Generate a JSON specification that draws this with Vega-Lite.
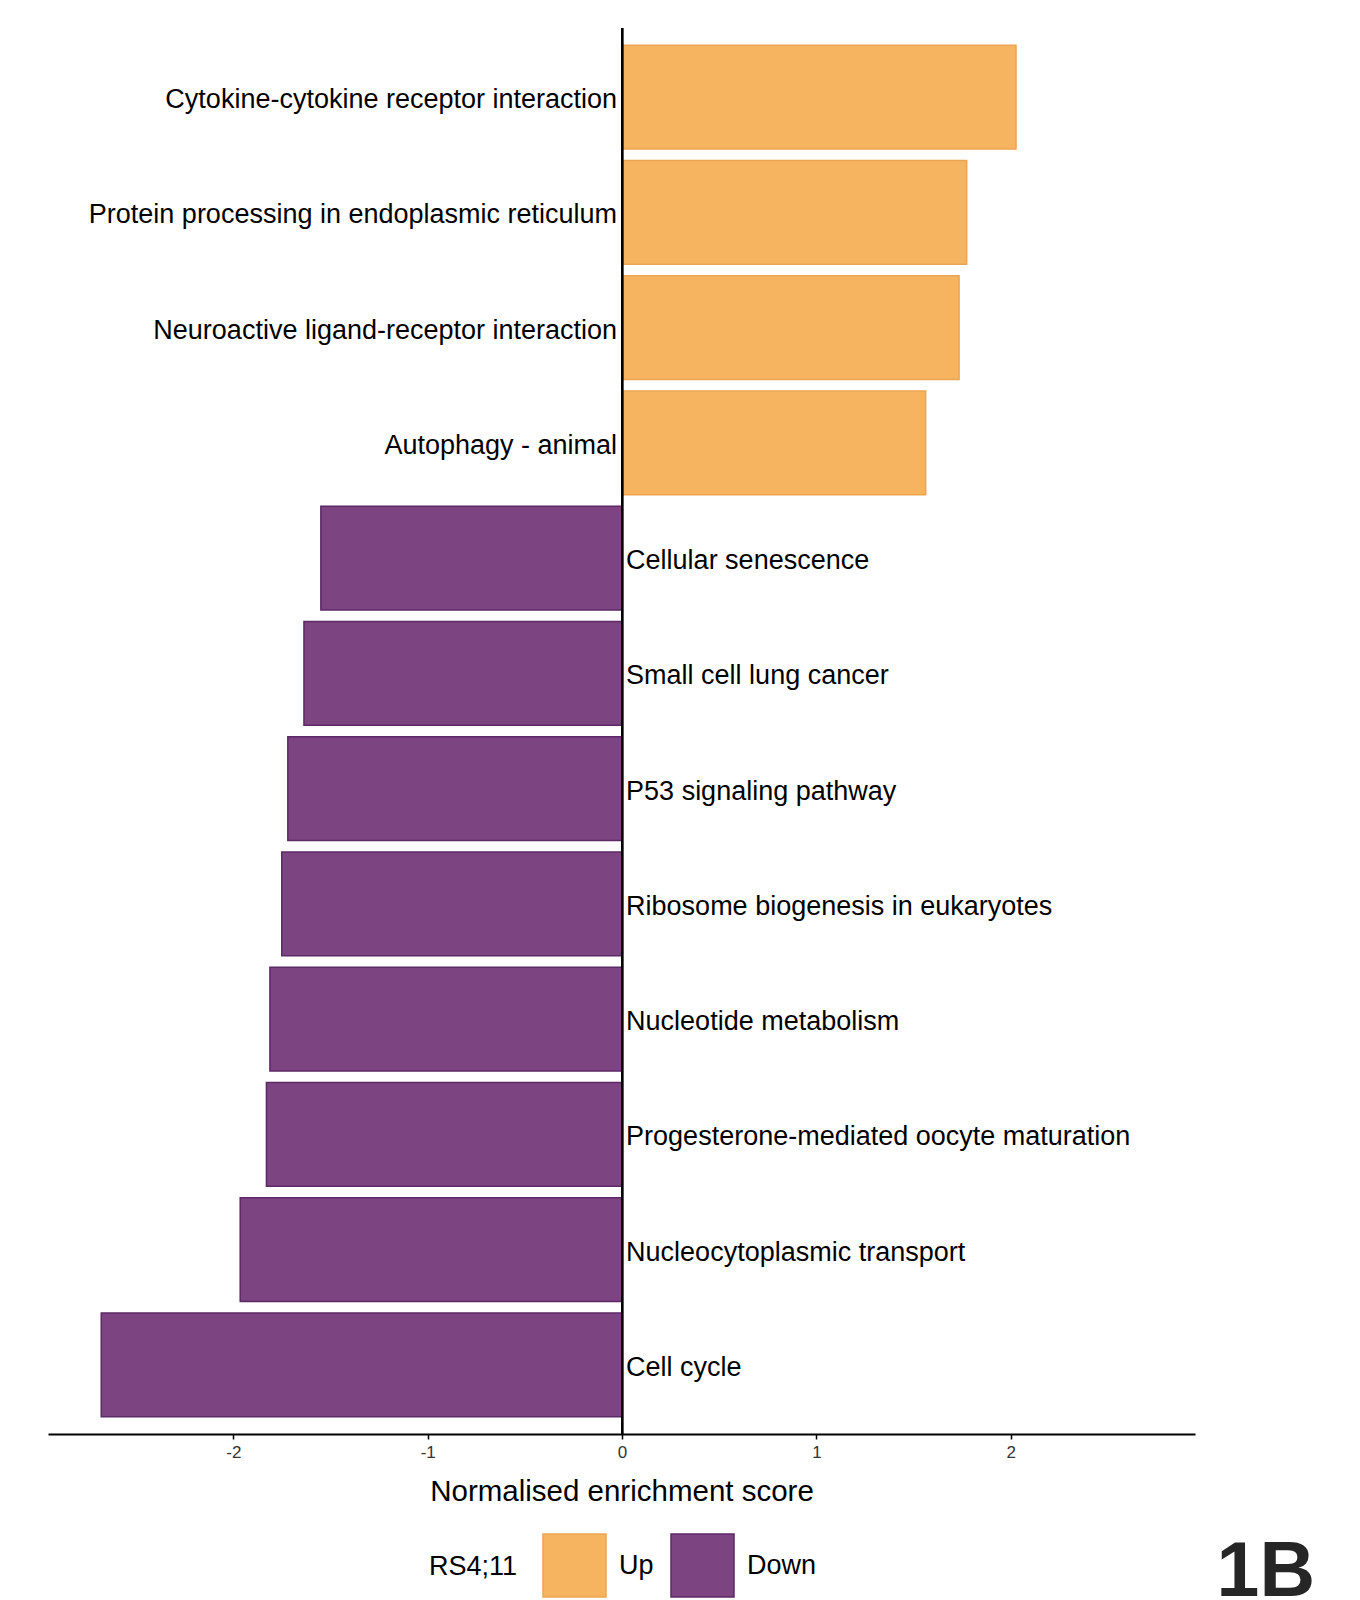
{
  "$schema": "https://vega.github.io/schema/vega-lite/v6.json",
  "autosize": "none",
  "width": 1147,
  "height": 1406,
  "padding": {"left": 48, "top": 28, "right": 165, "bottom": 166},
  "background": "white",
  "title": {"text": "1B", "orient": "bottom", "anchor": "end", "frame": "group", "dx": 120, "offset": -65, "fontSize": 77, "fontWeight": "bold", "font": "Liberation Sans", "color": "#262626"},
  "data": {"values": [
    {"pathway": "Cytokine-cytokine receptor interaction", "nes": 2.027, "dir": "Up"},
    {"pathway": "Protein processing in endoplasmic reticulum", "nes": 1.773, "dir": "Up"},
    {"pathway": "Neuroactive ligand-receptor interaction", "nes": 1.734, "dir": "Up"},
    {"pathway": "Autophagy - animal", "nes": 1.562, "dir": "Up"},
    {"pathway": "Cellular senescence", "nes": -1.55, "dir": "Down"},
    {"pathway": "Small cell lung cancer", "nes": -1.637, "dir": "Down"},
    {"pathway": "P53 signaling pathway", "nes": -1.72, "dir": "Down"},
    {"pathway": "Ribosome biogenesis in eukaryotes", "nes": -1.751, "dir": "Down"},
    {"pathway": "Nucleotide metabolism", "nes": -1.812, "dir": "Down"},
    {"pathway": "Progesterone-mediated oocyte maturation", "nes": -1.83, "dir": "Down"},
    {"pathway": "Nucleocytoplasmic transport", "nes": -1.965, "dir": "Down"},
    {"pathway": "Cell cycle", "nes": -2.68, "dir": "Down"}
  ]},
  "encoding": {
    "y": {"field": "pathway", "type": "nominal", "sort": null,
          "scale": {"paddingInner": 0.1, "paddingOuter": 0.15},
          "axis": null}
  },
  "layer": [
    {
      "mark": {"type": "bar", "strokeWidth": 1.5},
      "encoding": {
        "x": {"field": "nes", "type": "quantitative",
              "scale": {"domain": [-2.954, 2.948], "nice": false, "zero": false},
              "axis": {"title": "Normalised enrichment score", "values": [-2, -1, 0, 1, 2],
                       "labelExpr": "replace(format(datum.value, 'd'), '−', '-')",
                       "grid": false, "domainColor": "black", "domainWidth": 2,
                       "tickColor": "black", "tickWidth": 1.5, "tickSize": 5,
                       "labelFontSize": 17, "labelColor": "#333333", "labelFont": "Liberation Sans",
                       "labelPadding": 5,
                       "titleFontSize": 29.5, "titleFontWeight": "normal", "titleColor": "black",
                       "titleFont": "Liberation Sans", "titlePadding": 17}},
        "color": {"field": "dir", "type": "nominal",
                  "scale": {"domain": ["Up", "Down"], "range": ["#F6B460", "#7C4582"]},
                  "legend": {"title": "RS4;11", "orient": "none", "legendX": 381, "legendY": 1505,
                             "direction": "horizontal", "titleOrient": "left",
                             "titleFontSize": 27, "titleFontWeight": "normal", "titleColor": "black",
                             "titleFont": "Liberation Sans", "titlePadding": 24,
                             "titleBaseline": "middle",
                             "labelFontSize": 27, "labelFont": "Liberation Sans", "labelColor": "black",
                             "labelOffset": 12, "columnPadding": 14,
                             "symbolType": "square", "symbolSize": 3969, "symbolStrokeWidth": 1.5,
                             "symbolOpacity": 1}},
        "stroke": {"field": "dir", "type": "nominal",
                   "scale": {"domain": ["Up", "Down"], "range": ["#EBA552", "#5C2866"]},
                   "legend": null}
      }
    },
    {
      "mark": {"type": "rule", "color": "black", "strokeWidth": 2},
      "encoding": {"x": {"datum": 0}, "y": null}
    },
    {
      "transform": [{"filter": "datum.dir === 'Up'"}],
      "mark": {"type": "text", "align": "right", "baseline": "middle", "dx": -5, "dy": 3,
               "fontSize": 27, "font": "Liberation Sans", "color": "black"},
      "encoding": {"x": {"datum": 0}, "text": {"field": "pathway"}}
    },
    {
      "transform": [{"filter": "datum.dir === 'Down'"}],
      "mark": {"type": "text", "align": "left", "baseline": "middle", "dx": 4, "dy": 3,
               "fontSize": 27, "font": "Liberation Sans", "color": "black"},
      "encoding": {"x": {"datum": 0}, "text": {"field": "pathway"}}
    }
  ],
  "config": {"view": {"stroke": null}}
}
